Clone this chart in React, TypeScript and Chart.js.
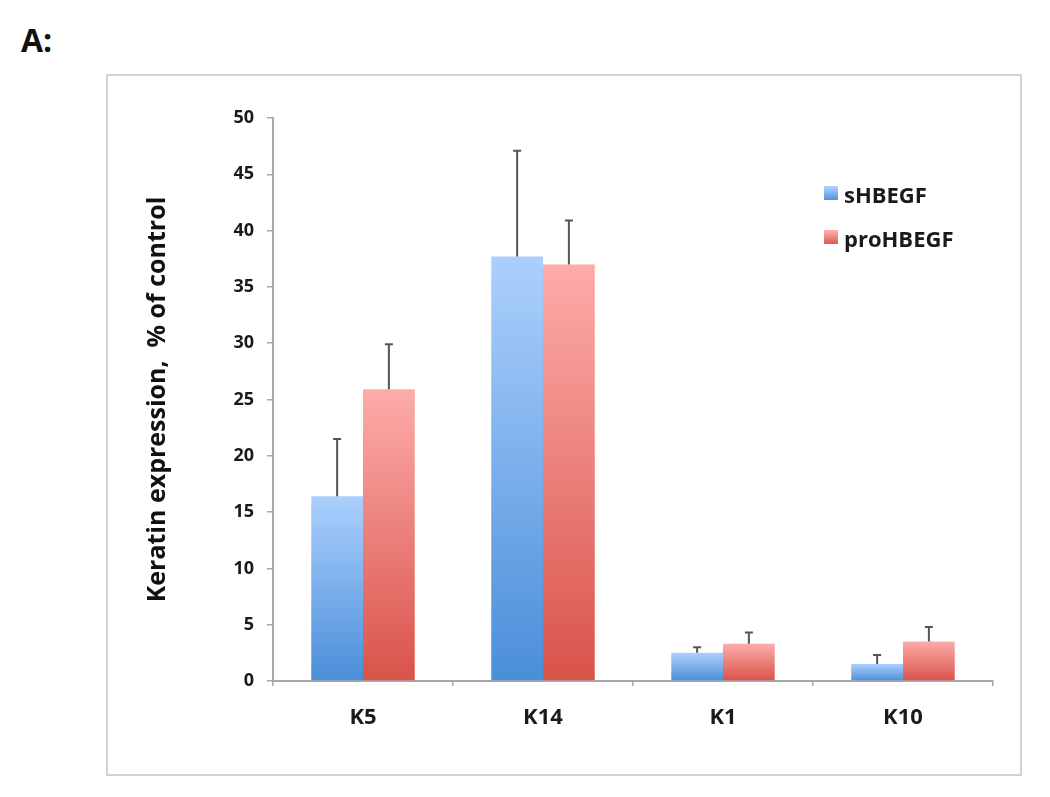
import React, { useEffect, useRef } from 'react';
import { Chart, registerables } from 'chart.js';

Chart.register(...registerables);

const categories = ['K5', 'K14', 'K1', 'K10'];
const seriesNames = ['sHBEGF', 'proHBEGF'];
const sHBEGF = [16.4, 37.7, 2.5, 1.5];
const sHBEGFErr = [5.1, 9.4, 0.5, 0.8];
const proHBEGF = [25.9, 37.0, 3.3, 3.5];
const proHBEGFErr = [4.0, 3.9, 1.0, 1.3];
const yMin = 0;
const yMax = 50;
const yStep = 5;
const yTitle = 'Keratin expression,  % of control';
const panelLabel = 'A:';

const gradStops = [
  ['#acd0fd', '#4a8ed9'],
  ['#fdaca9', '#d9534a'],
];

const FONT = '"Open Sans", "Noto Sans", sans-serif';

function barGradient(ctx: any, dsIndex: number) {
  const chart = ctx.chart;
  const scales = chart.scales;
  if (!scales || !scales.y || ctx.parsed === undefined) return gradStops[dsIndex][1];
  const v = ctx.parsed ? ctx.parsed.y : ctx.raw;
  const top = scales.y.getPixelForValue(v);
  const bottom = scales.y.getPixelForValue(0);
  if (!isFinite(top) || !isFinite(bottom) || top === bottom) return gradStops[dsIndex][1];
  const g = chart.ctx.createLinearGradient(0, top, 0, bottom);
  g.addColorStop(0, gradStops[dsIndex][0]);
  g.addColorStop(1, gradStops[dsIndex][1]);
  return g;
}

const errorBarPlugin = {
  id: 'errorBars',
  afterDatasetsDraw(chart: any) {
    const errs = [sHBEGFErr, proHBEGFErr];
    const ctx = chart.ctx;
    const y = chart.scales.y;
    ctx.save();
    ctx.strokeStyle = '#555555';
    ctx.lineWidth = 2;
    chart.data.datasets.forEach((ds: any, di: number) => {
      const meta = chart.getDatasetMeta(di);
      meta.data.forEach((el: any, i: number) => {
        const v = ds.data[i];
        const e = errs[di][i];
        const yTop = y.getPixelForValue(v + e);
        const yBar = y.getPixelForValue(v);
        ctx.beginPath();
        ctx.moveTo(el.x, yBar);
        ctx.lineTo(el.x, yTop);
        ctx.moveTo(el.x - 4, yTop);
        ctx.lineTo(el.x + 4, yTop);
        ctx.stroke();
      });
    });
    ctx.restore();
  },
};

const legendPlugin = {
  id: 'customLegend',
  afterDraw(chart: any) {
    const ctx = chart.ctx;
    ctx.save();
    const x0 = 824;
    const ys = [197, 241];
    seriesNames.forEach((name, i) => {
      const cy = ys[i];
      const g = ctx.createLinearGradient(0, cy - 10, 0, cy + 4);
      g.addColorStop(0, gradStops[i][0]);
      g.addColorStop(1, gradStops[i][1]);
      ctx.fillStyle = g;
      ctx.fillRect(x0, cy - 11, 14, 14);
      ctx.fillStyle = '#1a1a1a';
      ctx.font = `bold 22px ${FONT}`;
      ctx.textBaseline = 'middle';
      ctx.textAlign = 'left';
      ctx.fillText(name, x0 + 20, cy);
    });
    ctx.restore();
  },
};

export default function App() {
  const ref = useRef<HTMLCanvasElement | null>(null);

  useEffect(() => {
    if (!ref.current) return;
    const yTicks: number[] = [];
    for (let v = yMin; v <= yMax; v += yStep) yTicks.push(v);
    const chart = new Chart(ref.current, {
      type: 'bar',
      data: {
        labels: categories,
        datasets: [
          {
            label: seriesNames[0],
            data: sHBEGF,
            backgroundColor: (c: any) => barGradient(c, 0),
            borderWidth: 0,
          },
          {
            label: seriesNames[1],
            data: proHBEGF,
            backgroundColor: (c: any) => barGradient(c, 1),
            borderWidth: 0,
          },
        ],
      },
      options: {
        responsive: false,
        animation: false,
        events: [],
        layout: { padding: { left: 140, top: 118, right: 57, bottom: 40 } },
        datasets: {
          bar: { categoryPercentage: 0.575, barPercentage: 1.0 },
        },
        plugins: {
          legend: { display: false },
          tooltip: { enabled: false },
          title: { display: false },
        },
        scales: {
          x: {
            afterFit: (s: any) => {
              s.height = 76;
            },
            grid: {
              drawOnChartArea: false,
              drawTicks: true,
              tickLength: 5,
              color: '#a8a8a8',
              lineWidth: 1.5,
              offset: true,
            },
            border: { display: true, color: '#a8a8a8', width: 2 },
            ticks: {
              color: '#1a1a1a',
              padding: 19,
              font: { family: FONT, size: 22, weight: 'bold' },
            },
          },
          y: {
            min: yMin,
            max: yMax,
            afterFit: (s: any) => {
              s.width = 133;
            },
            afterBuildTicks: (s: any) => {
              s.ticks = yTicks.map((v) => ({ value: v }));
            },
            grid: {
              drawOnChartArea: false,
              drawTicks: true,
              tickLength: 6,
              color: '#a8a8a8',
              lineWidth: 1.5,
            },
            border: { display: true, color: '#a8a8a8', width: 2 },
            ticks: {
              color: '#1a1a1a',
              padding: 13,
              font: { family: FONT, size: 18, weight: 'bold' },
            },
            title: {
              display: true,
              text: yTitle,
              color: '#111111',
              padding: { top: 3, bottom: 0 },
              font: { family: FONT, size: 25, weight: 'bold' },
            },
          },
        },
      },
      plugins: [errorBarPlugin, legendPlugin],
    });
    return () => chart.destroy();
  }, []);

  return (
    <div
      style={{
        position: 'fixed',
        left: 0,
        top: 0,
        width: 1050,
        height: 797,
        background: '#ffffff',
        fontFamily: FONT,
      }}
    >
      <div
        style={{
          position: 'absolute',
          left: 21,
          top: 19,
          fontSize: 32,
          fontWeight: 'bold',
          color: '#111',
          lineHeight: '42px',
        }}
      >
        {panelLabel}
      </div>
      <div
        style={{
          position: 'absolute',
          left: 106,
          top: 74,
          width: 912,
          height: 698,
          border: '2px solid #d2d2d2',
        }}
      />
      <canvas
        ref={ref}
        width={1050}
        height={797}
        style={{ position: 'absolute', left: 0, top: 0, width: 1050, height: 797 }}
      />
    </div>
  );
}
